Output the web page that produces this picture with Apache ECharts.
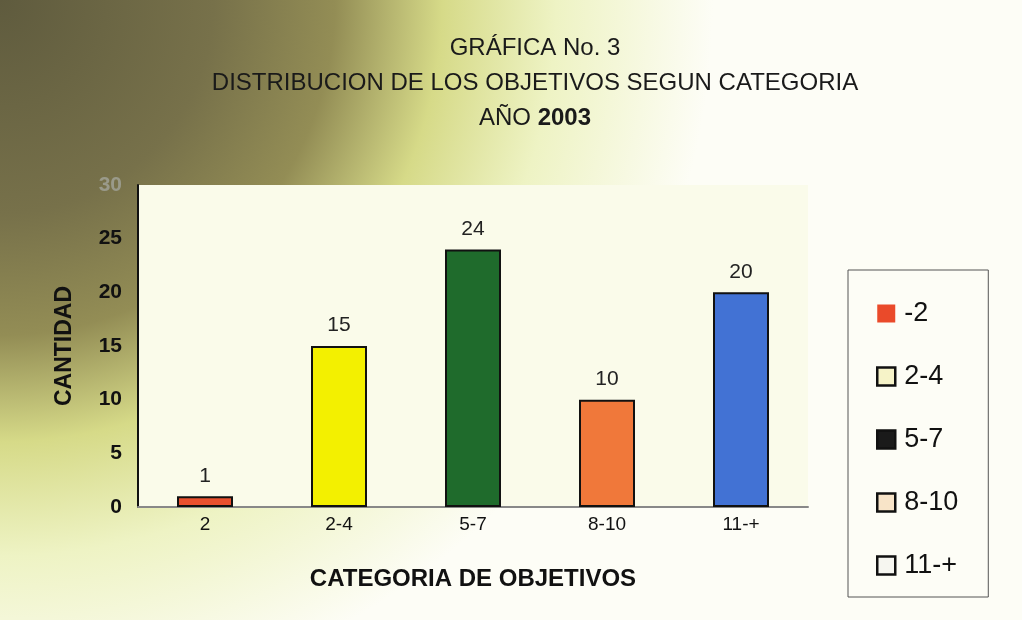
<!DOCTYPE html>
<html>
<head>
<meta charset="utf-8">
<title>GRÁFICA No. 3</title>
<script src="https://cdn.jsdelivr.net/npm/echarts@6/dist/echarts.min.js"></script>
<style>
    html,body{margin:0;padding:0;background:#fff;}
    #main{width:1022px;height:620px;}
</style>
</head>
<body>
<div id="main"></div>
<script>
// datos de la grafica
var categorias = ["2", "2-4", "5-7", "8-10", "11-+"];
var leyenda = ["-2", "2-4", "5-7", "8-10", "11-+"];
var cantidades = [1, 15, 24, 10, 20];
var colores = ["#e9502e", "#f3f000", "#1f6b2c", "#f0783a", "#4272d4"];
// los cuadritos de la leyenda salen casi en blanco en la copia
var coloresLeyenda = ["#ea4a2a", "#f6f3c8", "#1a1a1a", "#f8e4c8", "#f6f6f0"];
var ticksY = [0, 5, 10, 15, 20, 25, 30];

function armarSeries(){
    var series = [];
    for (var i = 0; i < categorias.length; i++) {
        var datos = [];
        for (var j = 0; j < categorias.length; j++) {
            datos.push(i == j ? cantidades[i] : '-');
        }
        series.push({
            name: leyenda[i],
            type: 'bar',
            data: datos,
            barWidth: 56,
            barGap: '-100%',
            itemStyle: {
                color: colores[i],
                borderColor: '#111',
                borderWidth: 2
            },
            label: {
                show: true,
                position: 'top',
                distance: 10,
                color: '#222',
                fontSize: 21,
                fontFamily: 'Liberation Sans'
            }
        });
    }
    return series;
}

function armarLeyenda(){
    var items = [];
    for (var i = 0; i < leyenda.length; i++) {
        items.push({
            name: leyenda[i],
            itemStyle: {color: coloresLeyenda[i], borderColor: '#111', borderWidth: i == 0 ? 0 : 2.5}
        });
    }
    return items;
}

var myChart = echarts.init(document.getElementById('main'));
var option = {
    animation: false,
    backgroundColor: new echarts.graphic.RadialGradient(0, 0, 1.15, [
        {offset: 0, color: '#5f5b3e'},
        {offset: 0.3, color: '#77714a'},
        {offset: 0.47, color: '#938d55'},
        {offset: 0.62, color: '#d6da88'},
        {offset: 0.78, color: '#eef3c4'},
        {offset: 1, color: '#fdfdf6'}
    ]),
    title: {
        text: 'GRÁFICA No. 3\nDISTRIBUCION DE LOS OBJETIVOS SEGUN CATEGORIA\nAÑO {b|2003}',
        left: 530,
        textAlign: 'center',
        top: 26,
        textStyle: {
            fontFamily: 'Liberation Sans',
            fontSize: 24,
            fontWeight: 'normal',
            color: '#1a1a1a',
            lineHeight: 35,
            rich: {
                b: {fontFamily: 'Liberation Sans', fontSize: 24, fontWeight: 'bold', color: '#1a1a1a'}
            }
        }
    },
    legend: {
        orient: 'vertical',
        left: 848,
        top: 270,
        padding: [30, 30, 18, 28],
        itemGap: 36,
        itemWidth: 18,
        itemHeight: 18,
        borderColor: '#555',
        borderWidth: 1,
        icon: 'rect',
        textStyle: {fontFamily: 'Liberation Sans', fontSize: 27, color: '#111', padding: [0, 0, 0, 4]},
        data: armarLeyenda()
    },
    grid: {
        left: 138,
        right: 214,
        top: 185,
        bottom: 113,
        show: true,
        backgroundColor: '#fafbea',
        borderWidth: 0
    },
    xAxis: {
        type: 'category',
        data: categorias,
        name: 'CATEGORIA DE OBJETIVOS',
        nameLocation: 'middle',
        nameGap: 60,
        nameTextStyle: {fontFamily: 'Liberation Sans', fontSize: 24, fontWeight: 'bold', color: '#111'},
        axisLine: {lineStyle: {color: '#888', width: 2}},
        axisTick: {show: false},
        axisLabel: {fontFamily: 'Liberation Sans', fontSize: 19, color: '#111', margin: 8}
    },
    yAxis: {
        type: 'value',
        min: ticksY[0],
        max: ticksY[ticksY.length - 1],
        interval: 5,
        name: 'CANTIDAD',
        nameLocation: 'middle',
        nameGap: 62,
        nameTextStyle: {fontFamily: 'Liberation Sans', fontSize: 23, fontWeight: 'bold', color: '#111'},
        axisLine: {show: true, lineStyle: {color: '#111', width: 2}},
        axisTick: {show: false},
        splitLine: {show: false},
        axisLabel: {
            fontFamily: 'Liberation Sans',
            fontSize: 21,
            fontWeight: 'bold',
            margin: 16,
            color: function(v){ return v == 30 ? '#9a9a8a' : '#111'; }
        }
    },
    series: armarSeries()
};
myChart.setOption(option);
</script>
</body>
</html>
